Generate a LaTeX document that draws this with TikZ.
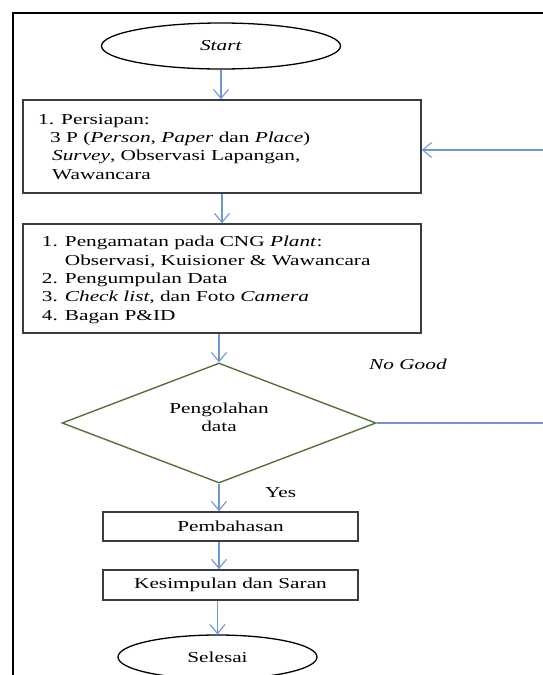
\documentclass[tikz,border=0pt]{standalone}
\usepackage{fontspec}
\setmainfont{Liberation Serif}
\usepackage{graphicx}
\usetikzlibrary{shapes.geometric,arrows.meta}
\definecolor{arrowblue}{RGB}{110,150,215}
\definecolor{boxgray}{RGB}{60,60,60}
\definecolor{diagreen}{RGB}{85,115,55}
\newcommand{\stx}[1]{\scalebox{1.4}[1]{#1}}
\begin{document}
\begin{tikzpicture}[x=1pt,y=-1pt,
  font=\fontsize{15.2}{18.3}\selectfont,
  box/.style={draw=boxgray,line width=1.6pt,rectangle,inner sep=0pt},
  oval/.style={draw=black,line width=1.3pt,ellipse,inner sep=0pt},
  decision/.style={diamond,draw=diagreen,line width=1.4pt,inner sep=0pt},
  arr/.style={draw=arrowblue,line width=1.1pt,-{Straight Barb[length=9pt,width=15pt]}},
  lbl/.style={inner sep=0pt}]
\useasboundingbox (0,0) rectangle (543,675);
\draw[line width=2pt] (13,680) -- (13,13) -- (550,13);
\node[oval,minimum width=239pt,minimum height=46pt] (start) at (221,46) {\stx{\textit{Start}}};
\node[box,minimum width=398pt,minimum height=93pt] (b1) at (222,146.5) {};
\node[lbl,anchor=north west] (t1) at (38,111.2) {\stx{\begin{tabular}{@{}l@{}}1. Persiapan:\\ \hspace{8.6pt}3 P (\textit{Person}, \textit{Paper} dan \textit{Place})\\ \hspace{10pt}\textit{Survey}, Observasi Lapangan,\\ \hspace{10pt}Wawancara\end{tabular}}};
\node[box,minimum width=398pt,minimum height=109pt] (b2) at (222,278.5) {};
\node[lbl,anchor=north west] (t2) at (41.7,233.9) {\stx{\begin{tabular}{@{}l@{}}1. Pengamatan pada CNG \textit{Plant}:\\ \phantom{1. }Observasi, Kuisioner \& Wawancara\\ 2. Pengumpulan Data\\ 3. \textit{Check list}, dan Foto \textit{Camera}\\ 4. Bagan P\&ID\end{tabular}}};
\node[decision,minimum width=314pt,minimum height=120pt,aspect=2.617] (dia) at (219,423) {};
\node[lbl] (dt) at (219,419) {\stx{\begin{tabular}{@{}c@{}}Pengolahan\\data\end{tabular}}};
\node[box,minimum width=255pt,minimum height=29pt] (b3) at (230.5,526.5) {\stx{Pembahasan}};
\node[box,minimum width=255pt,minimum height=30pt] (b4) at (230.5,585) {\stx{Kesimpulan dan Saran}};
\node[oval,minimum width=199pt,minimum height=44pt] (end) at (217.5,657) {\stx{Selesai}};
\node[lbl,anchor=base west] (ng) at (369,369) {\stx{\textit{No Good}}};
\node[lbl,anchor=base west] (yes) at (265,497) {\stx{Yes}};
\coordinate (fbc) at (549,150);
\draw[arr] (start.south) -- (start.south |- b1.north);
\draw[arr] (b1.south) -- (b2.north);
\draw[arr] (b2.south -| dia.north) -- (dia.north);
\draw[arr] (dia.south) -- (dia.south |- b3.north);
\draw[arr] (b3.south -| dia.south) -- (dia.south |- b4.north);
\draw[arr] (b4.south -| end.north) -- (end.north);
\draw[arr] (dia.east) -| (fbc) -- (b1.east |- fbc);
\end{tikzpicture}
\end{document}
